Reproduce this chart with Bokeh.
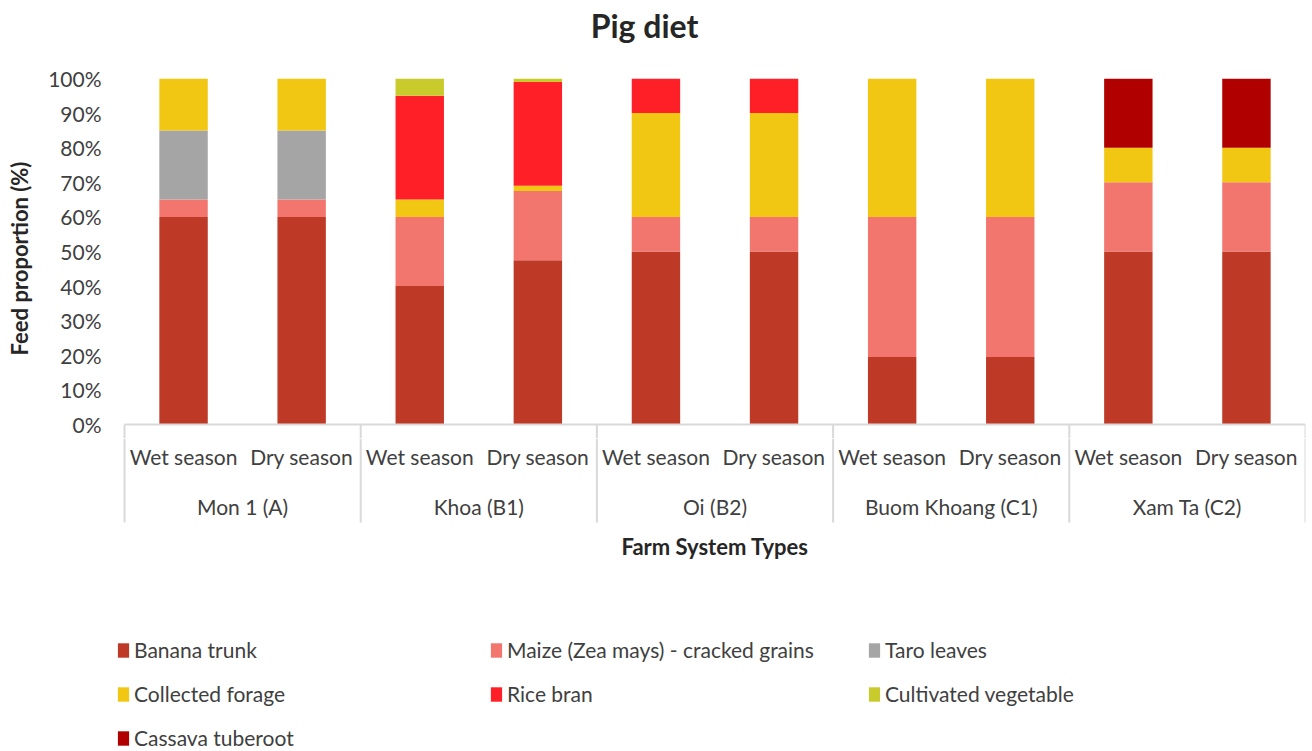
from bokeh.plotting import figure
from bokeh.models import (Range1d, FixedTicker, NumeralTickFormatter,
                          ColumnDataSource, Legend, LegendItem)
from bokeh.layouts import column
from bokeh.core.properties import value
from bokeh.embed import file_html
from bokeh.resources import INLINE

# ---- data -------------------------------------------------------------
farms = ["Mon 1 (A)", "Khoa (B1)", "Oi (B2)", "Buom Khoang (C1)", "Xam Ta (C2)"]
seasons = ["Wet season", "Dry season"]

# share of each feed in the diet (%), farm by farm, wet season then dry season
banana_trunk = [60, 60, 40, 47.5, 50, 50, 19.5, 19.5, 50, 50]
maize_cracked = [5, 5, 20, 20, 10, 10, 40.5, 40.5, 20, 20]
taro_leaves = [20, 20, 0, 0, 0, 0, 0, 0, 0, 0]
collected_forage = [15, 15, 5, 1.5, 30, 30, 40, 40, 10, 10]
rice_bran = [0, 0, 30, 30, 10, 10, 0, 0, 0, 0]
cultivated_vegetable = [0, 0, 5, 1, 0, 0, 0, 0, 0, 0]
cassava_tuberoot = [0, 0, 0, 0, 0, 0, 0, 0, 20, 20]

feed_names = ["Banana trunk", "Maize (Zea mays) - cracked grains", "Taro leaves",
              "Collected forage", "Rice bran", "Cultivated vegetable", "Cassava tuberoot"]
feed_colors = ["#BE3A26", "#F2766E", "#A5A5A5", "#F2C713", "#FF2027", "#C9CB2C", "#B00000"]

y_ticks = [0, 0.1, 0.2, 0.3, 0.4, 0.5, 0.6, 0.7, 0.8, 0.9, 1.0]

chart_title = "Pig diet"
y_title = "Feed proportion (%)"
x_title = "Farm System Types"

# ---- styling / layout sizes --------------------------------------------
FONT = "Lato"
TEXT_COLOR = "#404040"
TITLE_COLOR = "#262626"
GRID_GREY = "#D9D9D9"

W = 1312
LEFT, RIGHT = 116, 7     # frame edges shared by every strip
AXIS_X0 = 124            # where the category table starts
HEAD_H = 56              # title strip
PAD_TOP = 22             # room for the 100 % tick label
PLOT_PX = 346            # pixel height of the 0-100 % band
GAP = 14                 # room for the 0 % tick label
BARS_H = PAD_TOP + PLOT_PX + GAP
TABLE_H = 132
LEGEND_H = 751 - HEAD_H - BARS_H - TABLE_H

factors = [(f, s) for f in farms for s in seasons]
n_cat = len(factors)
n_sub = len(seasons)
unit_px = (W - RIGHT - AXIS_X0) / n_cat
x_range = Range1d(-(AXIS_X0 - LEFT) / unit_px, n_cat)

xs = [i + 0.5 for i in range(n_cat)]                       # one slot per farm/season
group_x = [g * n_sub + n_sub / 2 for g in range(len(farms))]
bounds = [g * n_sub for g in range(len(farms) + 1)]
below = GAP / PLOT_PX

series = [banana_trunk, maize_cracked, taro_leaves, collected_forage,
          rice_bran, cultivated_vegetable, cassava_tuberoot]
keys = [f"feed{i}" for i in range(len(series))]
data = {"x": xs}
for k, vals in zip(keys, series):
    data[k] = [v / 100 for v in vals]
src = ColumnDataSource(data)


def strip(height, x_rng, y_rng, **kw):
    f = figure(width=W, height=height, x_range=x_rng, y_range=y_rng,
               output_backend="svg", toolbar_location=None, x_axis_location=None,
               min_border_left=LEFT, min_border_right=RIGHT, min_border_bottom=0, **kw)
    f.outline_line_color = None
    f.grid.visible = False
    return f


# ---- title strip --------------------------------------------------------
head = strip(HEAD_H, Range1d(LEFT, W - RIGHT), Range1d(HEAD_H, 0),
             y_axis_location=None, min_border_top=0)
head.text(x=[644], y=[25], text=[chart_title], text_align="center",
          text_baseline="middle", text_font=value(FONT), text_font_style="bold",
          text_font_size="32px", text_color=TITLE_COLOR)

# ---- stacked bars -------------------------------------------------------
p = strip(BARS_H, x_range, Range1d(-below, 1), min_border_top=PAD_TOP)
p.vbar_stack(keys, x="x", width=0.41, color=feed_colors, line_color=None, source=src)

# category axis baseline and the top of the group separators
p.segment(x0=[0], y0=[0], x1=[n_cat], y1=[0], line_color=GRID_GREY, line_width=2)
p.segment(x0=bounds, y0=[0] * len(bounds), x1=bounds, y1=[-below] * len(bounds),
          line_color=GRID_GREY, line_width=2)

yax = p.yaxis[0]
yax.ticker = FixedTicker(ticks=y_ticks)
yax.formatter = NumeralTickFormatter(format="0%")
yax.axis_line_color = None
yax.major_tick_line_color = None
yax.minor_tick_line_color = None
yax.major_tick_out = 0
yax.major_tick_in = 0
yax.major_label_standoff = 15
yax.major_label_text_font = FONT
yax.major_label_text_font_size = "21px"
yax.major_label_text_color = TEXT_COLOR
yax.axis_label = y_title
yax.axis_label_text_font = FONT
yax.axis_label_text_font_style = "bold"
yax.axis_label_text_font_size = "22px"
yax.axis_label_text_color = TITLE_COLOR
yax.axis_label_standoff = 12

# ---- category table and axis title -------------------------------------
q = strip(TABLE_H, x_range, Range1d(TABLE_H, 0), y_axis_location=None, min_border_top=0)
q.segment(x0=bounds, y0=[0] * len(bounds), x1=bounds, y1=[84] * len(bounds),
          line_color=GRID_GREY, line_width=2)

sub_src = ColumnDataSource(dict(x=xs, y=[18] * n_cat, t=[s for f in farms for s in seasons]))
q.text(x="x", y="y", text="t", source=sub_src, text_align="center",
       text_baseline="middle", text_font=value(FONT), text_font_size="21px",
       text_color=TEXT_COLOR)

grp_src = ColumnDataSource(dict(x=group_x, y=[68] * len(farms), t=farms))
q.text(x="x", y="y", text="t", source=grp_src, text_align="center",
       text_baseline="middle", text_font=value(FONT), text_font_size="21px",
       text_color=TEXT_COLOR)

q.text(x=[n_cat / 2], y=[108], text=[x_title],
       text_align="center", text_baseline="middle", text_font=value(FONT),
       text_font_style="bold", text_font_size="22px", text_color=TITLE_COLOR)

# ---- legend -------------------------------------------------------------
lg = strip(LEGEND_H, Range1d(LEFT, W - RIGHT), Range1d(0, LEGEND_H),
           y_axis_location=None, min_border_top=0)
swatches = [lg.vbar(x=[LEFT], top=[0], bottom=[0], width=1, fill_color=c, line_color=None)
            for c in feed_colors]

legend_top = 67
legend_columns = [([0, 3, 6], 0), ([1, 4], 373), ([2, 5], 751)]
for idx, xoff in legend_columns:
    items = [LegendItem(label=feed_names[i], renderers=[swatches[i]]) for i in idx]
    n = len(idx)
    height = n * 25 + (n - 1) * 19
    leg = Legend(items=items, location=(xoff, LEGEND_H - legend_top - height),
                 orientation="vertical", glyph_width=14, glyph_height=18,
                 label_standoff=4, spacing=19, padding=0, margin=0,
                 label_height=25, border_line_color=None, background_fill_alpha=0,
                 label_text_font=FONT, label_text_font_size="21px",
                 label_text_color=TEXT_COLOR)
    lg.add_layout(leg)

layout = column(head, p, q, lg)
open("out.html", "w").write(file_html(layout, INLINE))
